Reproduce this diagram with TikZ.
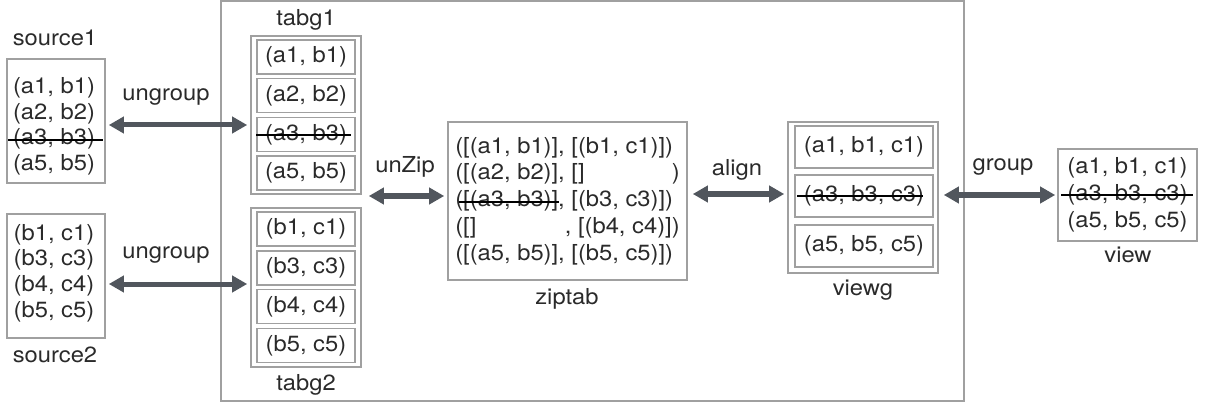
\documentclass[tikz,border=0pt]{standalone}
\usepackage{fontspec}
\setmainfont{TeX Gyre Heros}[FakeStretch=1.08]
\usetikzlibrary{arrows.meta}
\definecolor{boxgray}{HTML}{A0A0A0}
\definecolor{arrowgray}{HTML}{51565D}
\definecolor{ink}{HTML}{2A2A2A}
\begin{document}
\begin{tikzpicture}[x=1pt,y=-1pt,
  every node/.style={text=ink,font=\fontsize{22}{27}\selectfont},
  box/.style={draw=boxgray,line width=1.6pt,inner sep=0pt},
  listbox/.style={box,align=left},
  listtext/.style={inner sep=0pt,align=left,font=\fontsize{22}{25.6}\selectfont},
  rowbox/.style={box,minimum width=98,minimum height=34},
  cellbox/.style={box,minimum width=138,minimum height=42},
  lbl/.style={inner sep=0pt},
  biarrow/.style={draw=arrowgray,line width=5pt,
    {Triangle[length=15pt,width=16pt]}-{Triangle[length=15pt,width=16pt]}},
  strike/.style={draw=black,line width=1.3pt}]
\useasboundingbox (0,0) rectangle (1208,409);

% enclosing frame
\node[box,line width=2pt,minimum width=743,minimum height=400] (frame) at (592.5,201) {};

% sources
\node[box,minimum width=98,minimum height=124] (source1) at (56,121) {};
\node[listtext] (source1txt) at (54,126.5) {(a1, b1)\\(a2, b2)\\(a3, b3)\\(a5, b5)};
\node[lbl] (source1lbl) at (55,38) {source1};
\draw[strike] (8,140) -- (103,140);

\node[box,minimum width=98,minimum height=124] (source2) at (56,276) {};
\node[listtext] (source2txt) at (54,273) {(b1, c1)\\(b3, c3)\\(b4, c4)\\(b5, c5)};
\node[lbl] (source2lbl) at (55,355) {source2};

% grouped tables
\node[box,minimum width=110,minimum height=158] (tabg1) at (306,115) {};
\node[rowbox] (t1r1) at (306,57) {(a1, b1)};
\node[rowbox] (t1r2) at (306,95.5) {(a2, b2)};
\node[rowbox] (t1r3) at (306,134.5) {(a3, b3)};
\node[rowbox] (t1r4) at (306,173) {(a5, b5)};
\draw[strike] (256,135) -- (351,135);
\node[lbl] (tabg1lbl) at (306,20) {tabg1};

\node[box,minimum width=110,minimum height=159] (tabg2) at (306,287.5) {};
\node[rowbox] (t2r1) at (306,229) {(b1, c1)};
\node[rowbox] (t2r2) at (306,268) {(b3, c3)};
\node[rowbox] (t2r3) at (306,306.5) {(b4, c4)};
\node[rowbox] (t2r4) at (306,345.5) {(b5, c5)};
\node[lbl] (tabg2lbl) at (306,385) {tabg2};

% zipped table: blanks keep the columns lined up
\node[listbox,minimum width=239,minimum height=158,font=\fontsize{22}{26.7}\selectfont] (ziptab) at (567.5,201)
  {([(a1, b1)], [(b1, c1)])\\
   ([(a2, b2)], []\phantom{(b1, c1)]})\\
   ([(a3, b3)], [(b3, c3)])\\
   ([]\phantom{(a1, b1)]}, [(b4, c4)])\\
   ([(a5, b5)], [(b5, c5)])};
\draw[strike] (459,202) -- (559,202);
\node[lbl] (ziptablbl) at (567,299) {ziptab};

% aligned view
\node[box,minimum width=150,minimum height=151] (viewg) at (863,197.5) {};
\node[cellbox] (vgr1) at (864,147) {(a1, b1, c1)};
\node[cellbox] (vgr2) at (864,196) {(a3, b3, c3)};
\node[cellbox] (vgr3) at (864,246) {(a5, b5, c5)};
\draw[strike] (797,196) -- (923,196);
\node[lbl] (viewglbl) at (863,290) {viewg};

% final view
\node[listbox,align=center,minimum width=139,minimum height=92] (view) at (1127.5,195)
  {(a1, b1, c1)\\(a3, b3, c3)\\(a5, b5, c5)};
\draw[strike] (1061,195) -- (1193,195);
\node[lbl] (viewlbl) at (1128,255) {view};

% transformations
\draw[biarrow,shorten <=3pt,shorten >=3pt] (source1.east |- 0,125) -- (tabg1.west |- 0,125);
\node[lbl] (ung1) at (166,97) {ungroup};
\draw[biarrow,shorten <=3pt,shorten >=3pt] (source2.east |- 0,284) -- (tabg2.west |- 0,284);
\node[lbl] (ung2) at (166,255) {ungroup};
\draw[biarrow,shorten <=7pt,shorten >=3pt] (tabg1.east |- 0,196) -- (ziptab.west |- 0,196);
\node[lbl] (unzip) at (405,167) {unZip};
\draw[biarrow,shorten <=5pt,shorten >=3pt] (ziptab.east |- 0,194) -- (viewg.west |- 0,194);
\node[lbl] (align) at (737,170) {align};
\draw[biarrow,shorten <=5pt,shorten >=2pt] (viewg.east |- 0,195) -- (view.west |- 0,195);
\node[lbl] (group) at (1003,167) {group};
\end{tikzpicture}
\end{document}
